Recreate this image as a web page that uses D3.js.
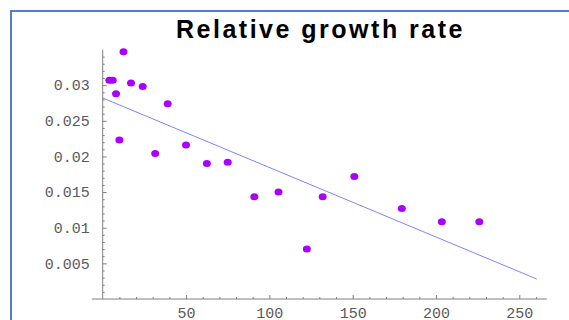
<!DOCTYPE html>
<html>
<head>
<meta charset="utf-8">
<script src="https://cdn.jsdelivr.net/npm/d3@7"></script>
<style>
  body { margin: 0; background: #fff; }
  svg { display: block; }
</style>
</head>
<body>
<div id="wrapper"></div>
<script>
// measured points (t, relative growth rate)
const tValues = [4, 6, 8, 10, 12.5, 17, 24, 31.5, 39, 50, 62.5, 75, 91, 105.5, 122.5, 132, 151, 179.5, 203.5, 226];
const rateValues = [0.0307, 0.0307, 0.0288, 0.0223, 0.0347, 0.0303, 0.0298, 0.0204, 0.0274, 0.0216, 0.0190, 0.0192, 0.01435, 0.0150, 0.0070, 0.01435, 0.0172, 0.0127, 0.01085, 0.01085];

// fitted line, read at its two ends
const fitT = [0, 260.5];
const fitRate = [0.0282, 0.0028];

const xTicks = [50, 100, 150, 200, 250];
const yTicks = [0.005, 0.01, 0.015, 0.02, 0.025, 0.03];
const yTickLabels = ["0.005", "0.01", "0.015", "0.02", "0.025", "0.03"];

function buildPlot() {
    const dimension = { width: 569, height: 320 };

    const svg = d3.select("#wrapper").append("svg")
        .attr("width", dimension.width)
        .attr("height", dimension.height);

    // frame
    svg.append("rect")
        .attr("x", 11).attr("y", 11)
        .attr("width", 600).attr("height", 400)
        .attr("fill", "none")
        .attr("stroke", "#4f81c4")
        .attr("stroke-width", 2);

    const xScaler = d3.scaleLinear().domain([0, 250]).range([102.7, 519.3]);
    const yScaler = d3.scaleLinear().domain([0, 0.035]).range([299, 49.5]);

    const axisColor = "#808080";

    // axis lines
    svg.append("line")
        .attr("x1", xScaler(-6.5)).attr("x2", xScaler(266.5))
        .attr("y1", yScaler(0)).attr("y2", yScaler(0))
        .attr("stroke", axisColor);
    svg.append("line")
        .attr("x1", xScaler(0)).attr("x2", xScaler(0))
        .attr("y1", yScaler(0)).attr("y2", yScaler(0.035))
        .attr("stroke", axisColor);

    // minor ticks
    const xMinor = d3.range(10, 265, 10).filter(v => v % 50 !== 0);
    const yMinor = d3.range(1, 35).map(v => v / 1000).filter((v, i) => (i + 1) % 5 !== 0);

    svg.append("g")
        .attr("transform", `translate(0,${yScaler(0)})`)
        .call(d3.axisBottom(xScaler).tickValues(xMinor).tickSize(-2).tickFormat(""))
        .call(g => g.select(".domain").remove())
        .selectAll("line").attr("stroke", axisColor);

    svg.append("g")
        .attr("transform", `translate(${xScaler(0)},0)`)
        .call(d3.axisLeft(yScaler).tickValues(yMinor).tickSize(-2).tickFormat(""))
        .call(g => g.select(".domain").remove())
        .selectAll("line").attr("stroke", axisColor);

    // major ticks
    const xAxis = svg.append("g")
        .attr("transform", `translate(0,${yScaler(0)})`)
        .call(d3.axisBottom(xScaler).tickValues(xTicks).tickSize(-4).tickPadding(8).tickFormat(d3.format("d")))
        .call(g => g.select(".domain").remove());

    const yAxis = svg.append("g")
        .attr("transform", `translate(${xScaler(0)},0)`)
        .call(d3.axisLeft(yScaler).tickValues(yTicks).tickSize(-4).tickPadding(13)
            .tickFormat((d, i) => yTickLabels[i]))
        .call(g => g.select(".domain").remove());

    [xAxis, yAxis].forEach(a => {
        a.selectAll("line").attr("stroke", axisColor);
        a.selectAll("text")
            .attr("fill", "#5a5a5a")
            .style("font-family", "'Liberation Mono', monospace")
            .style("font-size", "15px");
    });

    // fitted line
    const fit = fitT.map((t, i) => [t, fitRate[i]]);
    svg.append("path")
        .datum(fit)
        .attr("d", d3.line().x(d => xScaler(d[0])).y(d => yScaler(d[1])))
        .attr("fill", "none")
        .attr("stroke", "#7b86ff")
        .attr("stroke-width", 1);

    // points
    svg.append("g").selectAll("ellipse")
        .data(tValues.map((t, i) => [t, rateValues[i]]))
        .enter()
        .append("ellipse")
        .attr("cx", d => xScaler(d[0]))
        .attr("cy", d => yScaler(d[1]))
        .attr("rx", 4)
        .attr("ry", 3.5)
        .attr("fill", "#aa00ff");

    // title
    svg.append("text")
        .attr("x", 320.5)
        .attr("y", 38)
        .attr("text-anchor", "middle")
        .style("font-family", "'Liberation Sans', Arial, sans-serif")
        .style("font-weight", "bold")
        .style("font-size", "25px")
        .style("letter-spacing", "2.5px")
        .text("Relative growth rate");
}

buildPlot();
</script>
</body>
</html>
